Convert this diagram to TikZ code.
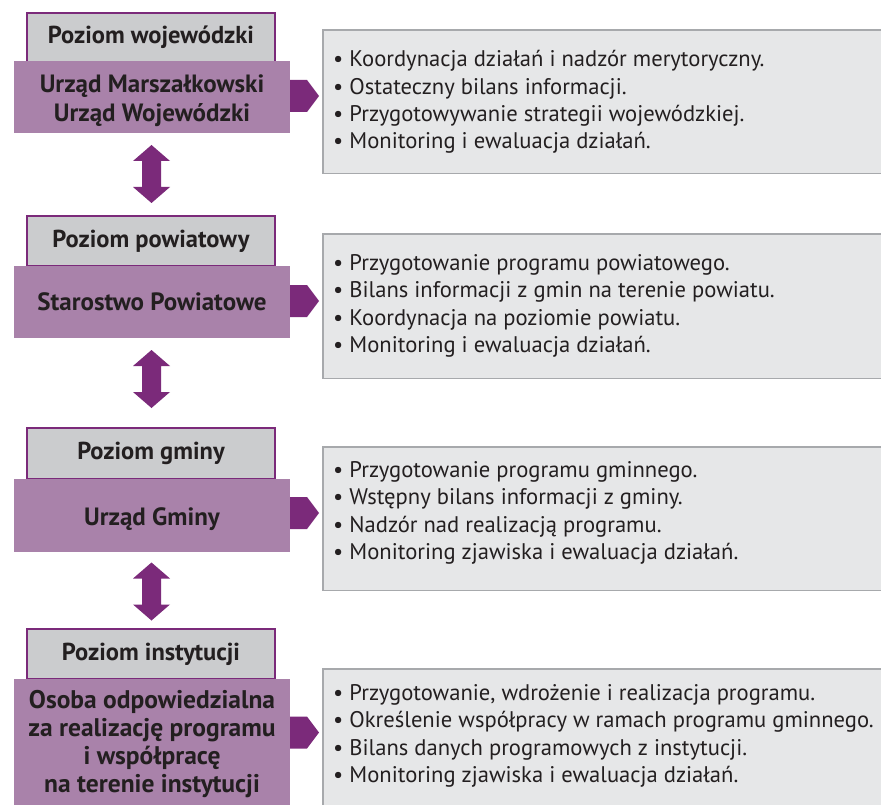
\documentclass[tikz,border=0pt]{standalone}
\usepackage{fontspec}
\setmainfont{PT Sans}
\definecolor{apurple}{HTML}{7B2A7A}
\definecolor{bpurple}{HTML}{A982AA}
\definecolor{hgray}{HTML}{CBCCCE}
\definecolor{rgray}{HTML}{E6E7E8}
\definecolor{rline}{HTML}{A7A9AC}
\definecolor{txt}{HTML}{231F20}
\begin{document}
\begin{tikzpicture}[x=1pt,y=-1pt,
  hdr/.style={draw=apurple, line width=1.5pt, fill=hgray, minimum width=248pt, inner sep=0pt, text=txt, font=\bfseries\fontsize{24.5}{28}\selectfont},
  mbox/.style={fill=bpurple, minimum width=276pt, inner sep=0pt},
  mtext/.style={inner sep=0pt, align=center, text=txt, font=\bfseries\fontsize{25}{29}\selectfont},
  rbox/.style={fill=rgray, inner sep=0pt, minimum width=558pt, anchor=north west},
  rborder/.style={draw=rline, line width=1.5pt},
  rtext/.style={anchor=west, align=left, inner sep=0pt, text=txt, font=\fontsize{22.6}{27.3}\selectfont},
  pent/.pic={\fill[apurple] (0,-16) -- (17,-16) -- (29,0) -- (17,16) -- (0,16) -- cycle;},
  dbl/.pic={\fill[apurple] (0,-29) -- (18.5,-13) -- (9.5,-13) -- (9.5,13) -- (18.5,13) -- (0,29) -- (-18.5,13) -- (-9.5,13) -- (-9.5,-13) -- (-18.5,-13) -- cycle;}
]
\useasboundingbox[fill=white] (0,0) rectangle (881,805);

% Block 1
\node[hdr, minimum height=49pt] (h1) at (151,37.5) {Poziom wojewódzki};
\node[mbox, minimum height=72pt] (m1) at (152,97) {};
\node[mtext] (m1t) at ([yshift=-4pt]m1.center) {Urząd Marszałkowski\\Urząd Wojewódzki};
\pic at (290,96) {pent};
\node[rbox, minimum height=143pt] (r1) at (323,30) {};
\draw[rborder] (r1.north east) -- (r1.north west) -- (r1.south west) -- (r1.south east);
\node[rtext] (t1) at (333,102) {• Koordynacja działań i nadzór merytoryczny.\\• Ostateczny bilans informacji.\\• Przygotowywanie strategii wojewódzkiej.\\• Monitoring i ewaluacja działań.};
\pic at (151.5,174) {dbl};

% Block 2
\node[hdr, minimum height=50pt] (h2) at (151,241) {Poziom powiatowy};
\node[mbox, minimum height=72pt] (m2) at (152,302) {};
\node[mtext] (m2t) at (m2.center) {Starostwo Powiatowe};
\pic at (290,301) {pent};
\node[rbox, minimum height=144pt] (r2) at (323,234) {};
\draw[rborder] (r2.north east) -- (r2.north west) -- (r2.south west) -- (r2.south east);
\node[rtext] (t2) at (333,306) {• Przygotowanie programu powiatowego.\\• Bilans informacji z gmin na terenie powiatu.\\• Koordynacja na poziomie powiatu.\\• Monitoring i ewaluacja działań.};
\pic at (151.5,379) {dbl};

% Block 3
\node[hdr, minimum height=51pt] (h3) at (151,453.5) {Poziom gminy};
\node[mbox, minimum height=73pt] (m3) at (152,515.5) {};
\node[mtext] (m3t) at ([yshift=-4pt]m3.center) {Urząd Gminy};
\pic at (290,513) {pent};
\node[rbox, minimum height=143pt] (r3) at (323,447) {};
\draw[rborder] (r3.north east) -- (r3.north west) -- (r3.south west) -- (r3.south east);
\node[rtext] (t3) at (333,513) {• Przygotowanie programu gminnego.\\• Wstępny bilans informacji z gminy.\\• Nadzór nad realizacją programu.\\• Monitoring zjawiska i ewaluacja działań.};
\pic at (151.5,591.5) {dbl};

% Block 4
\node[hdr, minimum height=50pt] (h4) at (151,654) {Poziom instytucji};
\node[mbox, minimum height=126pt] (m4) at (152,742) {};
\node[mtext, font=\bfseries\fontsize{25.5}{27.7}\selectfont] (m4t) at ([yshift=-2pt]m4.center) {Osoba odpowiedzialna\\za realizację programu\\i współpracę\\na terenie instytucji};
\pic at (290,732.5) {pent};
\node[rbox, minimum height=136pt] (r4) at (323,669) {};
\draw[rborder] (r4.north east) -- (r4.north west) -- (r4.south west);
\node[rtext] (t4) at (333,736) {• Przygotowanie, wdrożenie i realizacja programu.\\• Określenie współpracy w ramach programu gminnego.\\• Bilans danych programowych z instytucji.\\• Monitoring zjawiska i ewaluacja działań.};
\end{tikzpicture}
\end{document}
